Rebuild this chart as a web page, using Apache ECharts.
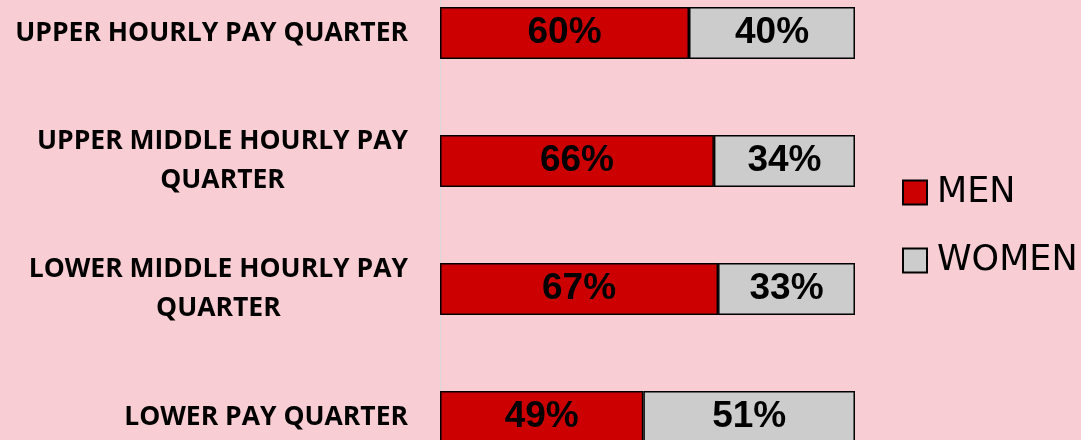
<!DOCTYPE html>
<html>
<head>
<meta charset="utf-8">
<script src="https://cdn.jsdelivr.net/npm/echarts@6/dist/echarts.min.js"></script>
<style>
  html, body { margin: 0; padding: 0; background: #f9cdd4; }
  #chart { width: 1081px; height: 440px; }
</style>
</head>
<body>
<div id="chart"></div>
<script>
// 各薪酬四分位的男女占比
const categories = [
  'UPPER HOURLY PAY QUARTER',
  'UPPER MIDDLE HOURLY PAY\nQUARTER',
  'LOWER MIDDLE HOURLY PAY\nQUARTER',
  'LOWER PAY QUARTER'
]
const menValues = [60, 66, 67, 49]
const womenValues = [40, 34, 33, 51]

let myChart = echarts.init(document.getElementById('chart'))

let barLabel = {
  show: true,
  position: 'inside',
  formatter: '{c}%',
  color: '#000',
  fontFamily: 'Liberation Sans',
  fontWeight: 'bold',
  fontSize: 37
}

myChart.setOption({
  backgroundColor: '#f9cdd4',
  animation: false,
  legend: {
    orient: 'vertical',
    left: 897,
    top: 170,
    itemWidth: 24,
    itemHeight: 24,
    itemGap: 33,
    icon: 'rect',
    textStyle: {
      color: '#000',
      fontFamily: 'DejaVu Sans',
      fontSize: 35,
      padding: [0, 0, 0, 5]
    }
  },
  grid: {
    left: 440,
    width: 415,
    top: -31,
    height: 512,
    outerBoundsMode: 'none'
  },
  xAxis: {
    type: 'value',
    min: 0,
    max: 100,
    show: false
  },
  yAxis: {
    type: 'category',
    inverse: true,
    data: categories,
    axisTick: { show: false },
    axisLine: { // 竖直轴线
      show: true,
      lineStyle: { color: '#d9d9d9', width: 1 }
    },
    axisLabel: {
      margin: 32,
      align: 'right',
      formatter (value) {
        return value.split('\n').map(l => '{c|' + l + '}').join('\n')
      },
      rich: {
        c: {
          align: 'center',
          color: '#000',
          fontFamily: 'Open Sans',
          fontWeight: 'bold',
          fontSize: 26.5,
          lineHeight: 39
        }
      }
    }
  },
  series: [
    {
      name: 'MEN',
      type: 'bar',
      stack: 'total',
      barWidth: 52,
      data: menValues,
      itemStyle: { color: '#cc0000', borderColor: '#000', borderWidth: 1.5 },
      label: barLabel
    },
    {
      name: 'WOMEN',
      type: 'bar',
      stack: 'total',
      barWidth: 52,
      data: womenValues,
      itemStyle: { color: '#cccccc', borderColor: '#000', borderWidth: 1.5 },
      label: barLabel
    }
  ]
})
</script>
</body>
</html>
